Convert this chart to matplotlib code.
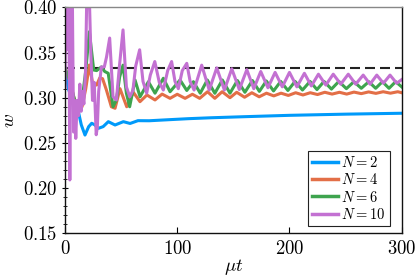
import numpy as np
import matplotlib
matplotlib.use("Agg")
from matplotlib import pyplot as plt
from matplotlib.ticker import MultipleLocator, FixedLocator, FuncFormatter

plt.rcParams['mathtext.fontset'] = 'cm'
plt.rcParams['font.family'] = 'serif'

# values (time mu*t, order parameter w)
t_n10 = [0, 0.6, 1.4, 2.2, 3.4, 4.3, 5.2, 6.5, 7.6, 8.6, 9.6, 10.8, 12.0, 13.2, 14.4, 15.6,
         16.8, 18.3, 19.5, 21.5, 23.0, 24.5, 26.0, 27.8, 28.8, 30.0, 32.4, 35.0, 37.0, 39.8,
         42.8, 45.8, 48.5, 51.7, 54.7, 57.7, 60.5, 63.0, 66.5, 69.5, 72.8, 76.0, 80.0, 84.0,
         87.6, 91.5, 95.0, 98.0, 101.0, 104.5, 108.5, 111.5, 115.0, 121.8, 128.5, 135.2, 142.0,
         148.6, 155.3, 162.0, 168.2, 174.4, 180.8, 187.2, 193.6, 200.0, 206.6, 213.3, 219.5,
         225.8, 232.4, 239.0, 245.7, 252.4, 259.0, 265.7, 271.8, 277.8, 283.7, 289.6, 295.5, 300]
w_n10 = [0.311, 0.42, 0.353, 0.42, 0.42, 0.209, 0.42, 0.42, 0.262, 0.297, 0.255, 0.297, 0.280,
         0.315, 0.285, 0.307, 0.293, 0.33, 0.42, 0.42, 0.35, 0.297, 0.317, 0.259, 0.267, 0.307,
         0.334, 0.334, 0.345, 0.366, 0.301, 0.2975, 0.335, 0.375, 0.312, 0.301, 0.308, 0.335,
         0.353, 0.318, 0.305, 0.325, 0.340, 0.317, 0.3085, 0.330, 0.340, 0.318, 0.310, 0.330,
         0.338, 0.318, 0.3085, 0.336, 0.3085, 0.333, 0.3085, 0.332, 0.309, 0.331, 0.310, 0.329,
         0.311, 0.328, 0.312, 0.328, 0.312, 0.327, 0.313, 0.326, 0.314, 0.326, 0.315, 0.326,
         0.315, 0.325, 0.315, 0.325, 0.316, 0.325, 0.316, 0.320]

t_n6 = [0, 4, 8, 11, 13.5, 15.2, 18.5, 21.7, 25.6, 28.2, 32.4, 35.4, 38.5, 42.8, 45.8, 48.7,
        51.7, 54.7, 57.6, 62.4, 66.9, 74.3, 80.2, 87.6, 93.6, 102.5, 108.5, 114.4, 120.5,
        126.8, 133.5, 140.2, 147.0, 153.6, 160.3, 167.0, 173.2, 179.4, 185.8, 192.2, 198.6,
        205.0, 211.6, 218.3, 224.5, 230.8, 237.4, 244.0, 250.7, 257.4, 264.0, 270.7, 276.8,
        282.8, 288.7, 294.6, 300]
w_n6 = [0.333, 0.32, 0.30, 0.29, 0.29, 0.2975, 0.33, 0.373, 0.3306, 0.330, 0.334, 0.329, 0.327,
        0.290, 0.2975, 0.323, 0.336, 0.305, 0.290, 0.3196, 0.301, 0.3177, 0.305, 0.3215,
        0.3066, 0.3196, 0.308, 0.3177, 0.305, 0.3196, 0.3049, 0.3196, 0.305, 0.319, 0.306,
        0.319, 0.307, 0.3185, 0.3075, 0.318, 0.308, 0.318, 0.3085, 0.318, 0.309, 0.318, 0.3095,
        0.318, 0.310, 0.3177, 0.3104, 0.3177, 0.3104, 0.3177, 0.3104, 0.3177, 0.312]

t_n4 = [0, 4, 8, 11, 13.5, 15.2, 18.5, 21.7, 24.6, 28.2, 31, 33.5, 36.9, 41.3, 44.6, 49, 55,
        60.9, 66.8, 73, 80.2, 86.5, 93.6, 100, 107, 113.5, 120, 127, 133.5, 140, 147, 153, 160,
        166.5, 173, 179.5, 186, 192.5, 199, 205.5, 212, 218.5, 225, 231.5, 238, 244.5, 251,
        257.5, 264, 270.5, 277, 283.5, 290, 296.5, 300]
w_n4 = [0.333, 0.32, 0.30, 0.29, 0.2883, 0.290, 0.31, 0.3362, 0.316, 0.314, 0.322, 0.321,
        0.3085, 0.290, 0.2883, 0.31, 0.290, 0.306, 0.2956, 0.303, 0.2975, 0.304, 0.2993,
        0.3038, 0.2993, 0.3038, 0.2993, 0.3066, 0.2993, 0.3066, 0.300, 0.306, 0.3005, 0.3055,
        0.301, 0.305, 0.302, 0.305, 0.3025, 0.3055, 0.303, 0.3055, 0.3035, 0.306, 0.304, 0.306,
        0.304, 0.3062, 0.3045, 0.3064, 0.3048, 0.3066, 0.305, 0.3066, 0.3055]

t_n2 = [0, 3, 7, 11.6, 14.5, 17.8, 21.1, 23.8, 26.5, 29.7, 34, 38.6, 44.6, 52, 58, 65, 75, 90,
        110, 130, 160, 200, 250, 300]
w_n2 = [0.333, 0.31, 0.295, 0.2864, 0.270, 0.2587, 0.268, 0.2717, 0.270, 0.2661, 0.268, 0.2735,
        0.2698, 0.2735, 0.2715, 0.2746, 0.2745, 0.2755, 0.2768, 0.2778, 0.279, 0.2805, 0.2818,
        0.2828]

w_limit = 1 / 3

series = [(t_n2, w_n2, '$N = 2$', '#009afa'),
          (t_n4, w_n4, '$N = 4$', '#e36f47'),
          (t_n6, w_n6, '$N = 6$', '#3ea44e'),
          (t_n10, w_n10, '$N = 10$', '#c371d2')]

fig = plt.figure(figsize=(4.15, 2.77), dpi=100)
ax = fig.add_axes([65 / 415, 1 - 233.3 / 277, 336.7 / 415, 226 / 277])

ax.plot([0, 300], [w_limit, w_limit], color='#222222', lw=1.5, dashes=(4.8, 2.4), zorder=1)
for t, w, lab, col in series:
    ax.plot(t, w, color=col, lw=2.2, label=lab, zorder=2, solid_joinstyle='round')

ax.set_xlim(0, 300)
ax.set_ylim(0.15, 0.40)
ax.xaxis.set_major_locator(FixedLocator([0, 100, 200, 300]))
ax.yaxis.set_major_locator(MultipleLocator(0.05))
ax.yaxis.set_minor_locator(MultipleLocator(0.01))
ax.xaxis.set_major_formatter(FuncFormatter(lambda v, p: '$%d$' % v))
ax.yaxis.set_major_formatter(FuncFormatter(lambda v, p: '$%.2f$' % v))
ax.tick_params(axis='x', direction='in', length=4, width=0.8, labelsize=13.5, pad=5)
ax.tick_params(axis='y', which='major', direction='inout', length=5, width=0.8, labelsize=13.5, pad=3)
ax.tick_params(axis='y', which='minor', direction='inout', length=3.5, width=0.6)
for s in ['left', 'bottom', 'right']:
    ax.spines[s].set_color('#111111')
    ax.spines[s].set_linewidth(1.0)
ax.spines['top'].set_color('#888888')
ax.spines['top'].set_linewidth(1.0)

ax.set_xlabel(r'$\mu t$', fontsize=13.5)
ax.set_ylabel(r'$w$', fontsize=13.5)
ax.xaxis.set_label_coords(0.5, -0.105)
ax.yaxis.set_label_coords(-0.14, 0.5)

leg = ax.legend(loc='lower right', bbox_to_anchor=(0.965, 0.032), borderaxespad=0,
                fontsize=10.5, handlelength=1.8, handletextpad=0.2, labelspacing=0.15,
                borderpad=0.3, fancybox=False, framealpha=1, edgecolor='#222222')
leg.get_frame().set_linewidth(0.8)
for h in leg.get_lines():
    h.set_linewidth(2.5)

plt.savefig('out.png', dpi=100)
